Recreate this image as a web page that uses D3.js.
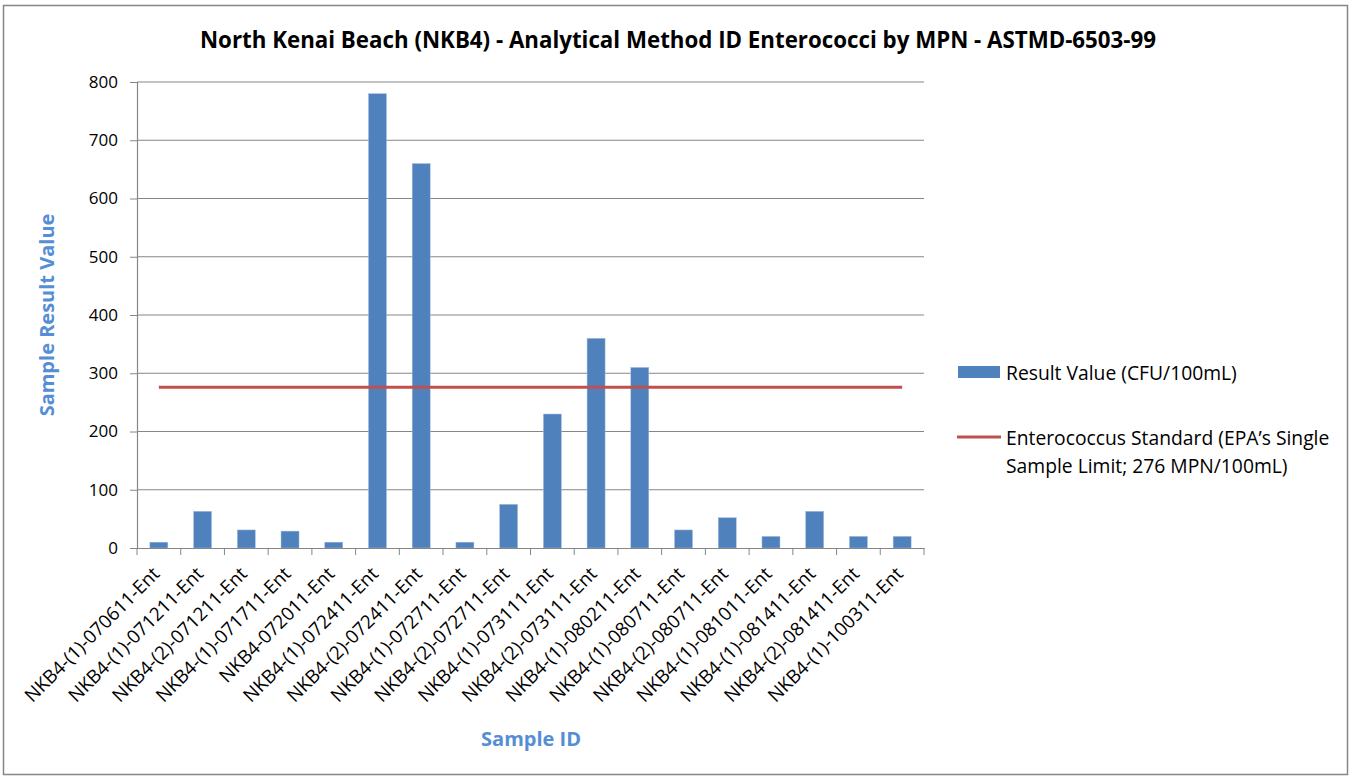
<!DOCTYPE html>
<html><head><meta charset="utf-8">
<script src="https://cdn.jsdelivr.net/npm/d3@7"></script>
<style>body{margin:0;background:#fff}svg{display:block}text{font-family:"Open Sans",sans-serif}</style>
</head><body>
<svg id="c" width="1352" height="777"></svg>
<script>
const categories = ["NKB4-(1)-070611-Ent","NKB4-(1)-071211-Ent","NKB4-(2)-071211-Ent","NKB4-(1)-071711-Ent","NKB4-072011-Ent","NKB4-(1)-072411-Ent","NKB4-(2)-072411-Ent","NKB4-(1)-072711-Ent","NKB4-(2)-072711-Ent","NKB4-(1)-073111-Ent","NKB4-(2)-073111-Ent","NKB4-(1)-080211-Ent","NKB4-(1)-080711-Ent","NKB4-(2)-080711-Ent","NKB4-(1)-081011-Ent","NKB4-(1)-081411-Ent","NKB4-(2)-081411-Ent","NKB4-(1)-100311-Ent"];
const resultValues = [10,63,31,29,10,780,660,10,75,230,360,310,31,52,20,63,20,20];
const standardValues = categories.map(()=>276);
const yTicks = [0,100,200,300,400,500,600,700,800];
const seriesNames = ["Result Value (CFU/100mL)", "Enterococcus Standard (EPA\u2019s Single", "Sample Limit; 276 MPN/100mL)"];
const title = "North Kenai Beach (NKB4) - Analytical Method ID Enterococci by MPN - ASTMD-6503-99";

const svg = d3.select("#c");
svg.append("rect").attr("x",3.5).attr("y",5.5).attr("width",1344).attr("height",769)
  .attr("fill","#fff").attr("stroke","#868686").attr("stroke-width",1.5);

const L=137,R=924,T=82,B=548;
const x = d3.scaleBand().domain(categories).range([L,R]).paddingInner(0).paddingOuter(0);
const y = d3.scaleLinear().domain([0,800]).range([B,T]);

// gridlines
svg.append("g").selectAll("line").data(yTicks.filter(d=>d>0)).join("line")
  .attr("x1",L).attr("x2",R).attr("y1",d=>y(d)).attr("y2",d=>y(d))
  .attr("stroke","#868686").attr("stroke-width",1);

// y axis
const ya = svg.append("g").attr("transform",`translate(${L},0)`)
  .call(d3.axisLeft(y).tickValues(yTicks).tickSize(7).tickPadding(12));
ya.select(".domain").attr("stroke","#868686").attr("stroke-width",1.2);
ya.selectAll(".tick line").attr("stroke","#868686");
ya.selectAll(".tick text").attr("font-size",17).attr("fill","#000").attr("font-family","Open Sans");

// bars
const bw = 18;
svg.append("g").selectAll("rect").data(resultValues).join("rect")
  .attr("x",(d,i)=>x(categories[i])+x.bandwidth()/2-bw/2)
  .attr("width",bw)
  .attr("y",d=>y(d)).attr("height",d=>B-y(d))
  .attr("fill","#4F81BD").attr("stroke","#A7BFDE").attr("stroke-width",0.5);

// x axis
const xa = svg.append("g").attr("transform",`translate(0,${B})`)
  .call(d3.axisBottom(x).tickSize(0).tickFormat(""));
xa.select(".domain").attr("stroke","#868686").attr("stroke-width",1.2);
const bounds = d3.range(categories.length+1).map(i=>L+i*x.bandwidth());
svg.append("g").selectAll("line").data(bounds).join("line")
  .attr("x1",d=>d).attr("x2",d=>d).attr("y1",B).attr("y2",B+7)
  .attr("stroke","#868686").attr("stroke-width",1);
svg.append("g").selectAll("text").data(categories).join("text")
  .attr("transform",d=>`translate(${x(d)+x.bandwidth()/2+2},${B+27}) rotate(-45)`)
  .attr("text-anchor","end").attr("font-size",18.8).attr("fill","#000")
  .text(d=>d);

// standard line
const line = d3.line().x((d,i)=>x(categories[i])+x.bandwidth()/2).y(d=>y(d));
svg.append("path").datum(standardValues).attr("d",line)
  .attr("fill","none").attr("stroke","#C0504D").attr("stroke-width",3.2);

// title
svg.append("text").attr("x",678).attr("y",48).attr("text-anchor","middle")
  .attr("font-size",22.3).attr("font-weight","bold").attr("fill","#000").text(title);

// axis titles
svg.append("text").attr("transform","translate(54,315) rotate(-90)").attr("text-anchor","middle")
  .attr("font-size",20).attr("font-weight","bold").attr("fill","#558ED5").text("Sample Result Value");
svg.append("text").attr("x",531).attr("y",746).attr("text-anchor","middle")
  .attr("font-size",20).attr("font-weight","bold").attr("fill","#558ED5").text("Sample ID");

// legend
const lg = svg.append("g");
lg.append("rect").attr("x",958).attr("y",366).attr("width",42).attr("height",12).attr("fill","#4F81BD");
lg.append("text").attr("x",1006).attr("y",380).attr("font-size",19.3).attr("fill","#000").text(seriesNames[0]);
lg.append("line").attr("x1",957).attr("x2",1001).attr("y1",437).attr("y2",437).attr("stroke","#C0504D").attr("stroke-width",3.2);
lg.append("text").attr("x",1006).attr("y",445).attr("font-size",19.3).attr("fill","#000").text(seriesNames[1]);
lg.append("text").attr("x",1006).attr("y",473).attr("font-size",19.3).attr("fill","#000").text(seriesNames[2]);
</script>
</body></html>
